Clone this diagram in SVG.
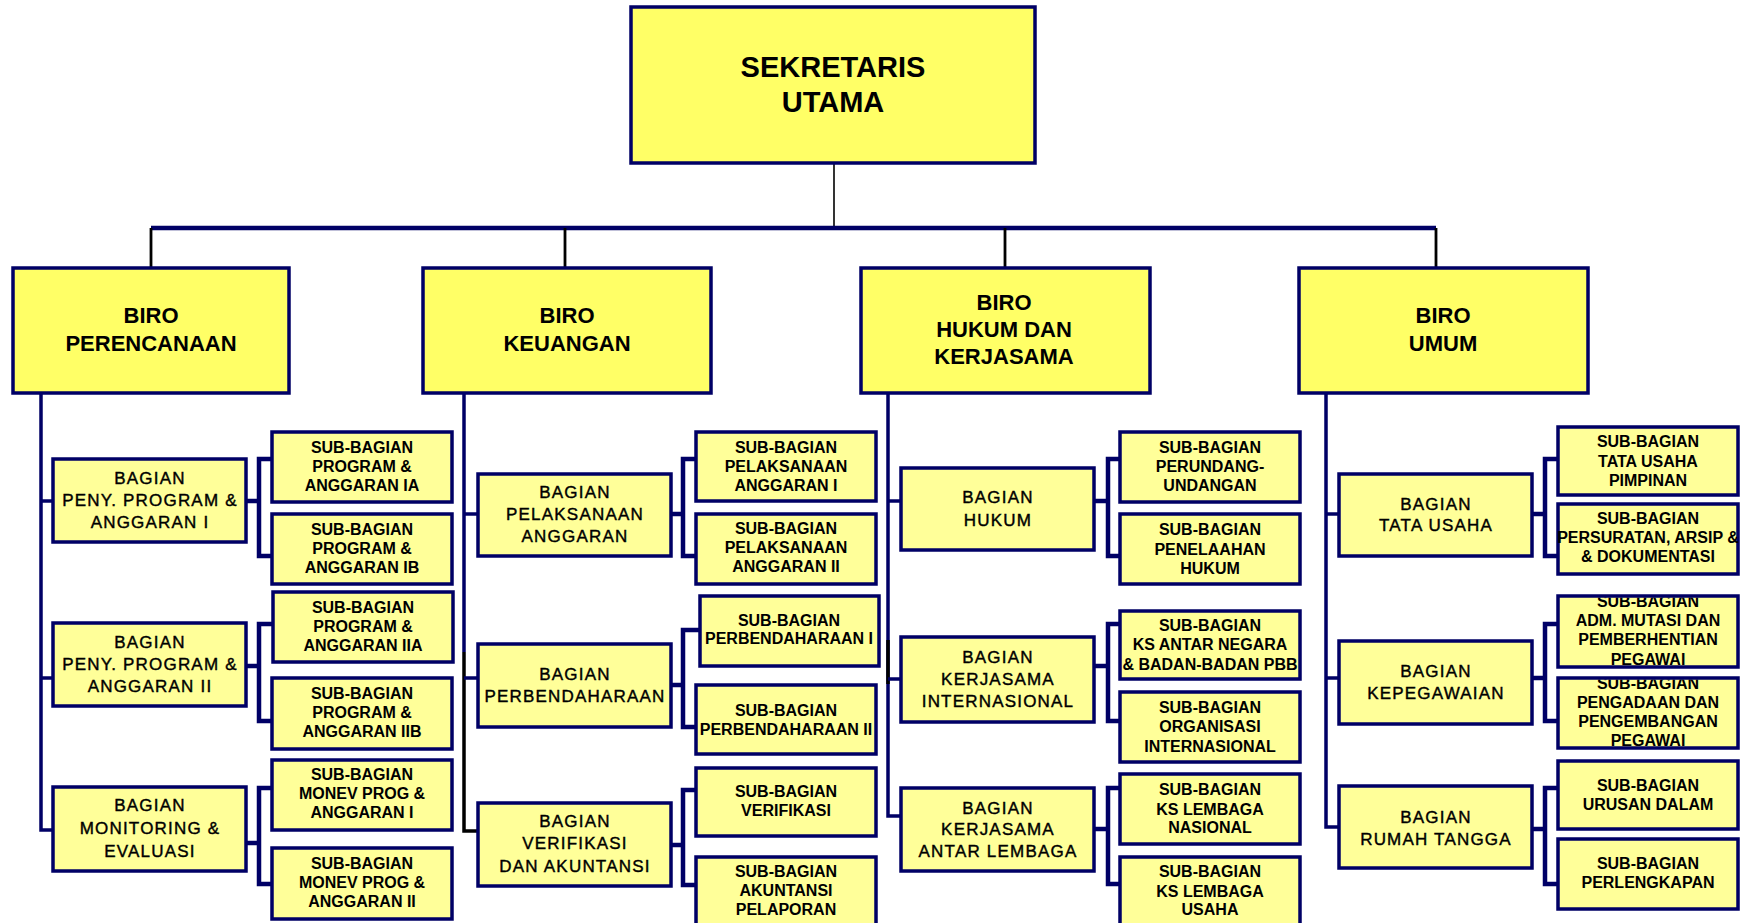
<svg xmlns="http://www.w3.org/2000/svg" width="1754" height="923" viewBox="0 0 1754 923">
<style>
.bg{fill:#ffffff}
.top{fill:#FFFF66;stroke:#000066;stroke-width:3.5}
.biro{fill:#FFFF66;stroke:#000066;stroke-width:3.5}
.bag{fill:#FFFF99;stroke:#000066;stroke-width:3.5}
.sub{fill:#FFFF99;stroke:#000066;stroke-width:3.5}
text{font-family:"Liberation Sans",Arial,sans-serif;fill:#000;text-anchor:middle}
.tt{font-size:29px;font-weight:bold}
.tb{font-size:22px;font-weight:bold}
.tg{font-size:17px;letter-spacing:1.2px;stroke:#000;stroke-width:0.4px}
.ts{font-size:16px;font-weight:bold}
.ln{fill:none;stroke:#000066;stroke-width:3.5}
.br{fill:none;stroke:#000066;stroke-width:4.5}
.bus{fill:none;stroke:#000066;stroke-width:4.5}
.blk{fill:none;stroke:#000000;stroke-width:2.8}
.thin{fill:none;stroke:#000000;stroke-width:1.6}
</style>
<defs>
<clipPath id="cpAdm"><rect x="1558" y="597.5" width="180" height="68"/></clipPath>
<clipPath id="cpPeng"><rect x="1558" y="679.5" width="180" height="67"/></clipPath>
</defs>
<rect class="bg" x="0" y="0" width="1754" height="923"/>

<g id="connectors">
<line class="thin" x1="834" y1="163" x2="834" y2="228"/>
<line class="bus" x1="151" y1="228" x2="1436" y2="228"/>
<line class="blk" x1="151" y1="228" x2="151" y2="268"/>
<line class="blk" x1="565" y1="228" x2="565" y2="268"/>
<line class="blk" x1="1005" y1="228" x2="1005" y2="268"/>
<line class="blk" x1="1436" y1="228" x2="1436" y2="268"/>
<!-- column 1 -->
<polyline class="ln" points="41,393 41,830 53,830"/>
<line class="ln" x1="41" y1="501" x2="53" y2="501"/>
<line class="ln" x1="41" y1="678" x2="53" y2="678"/>
<polyline class="br" points="272,459 259,459 259,556 272,556"/>
<line class="br" x1="246" y1="501" x2="259" y2="501"/>
<polyline class="br" points="272,624 259,624 259,721 272,721"/>
<line class="br" x1="246" y1="666" x2="259" y2="666"/>
<polyline class="br" points="272,788 259,788 259,884 272,884"/>
<line class="br" x1="246" y1="843" x2="259" y2="843"/>
<!-- column 2 -->
<line class="ln" x1="464" y1="393" x2="464" y2="652"/>
<polyline class="blk" style="stroke-width:3.5" points="464,652 464,831 478,831"/>
<line class="ln" x1="464" y1="514" x2="478" y2="514"/>
<line class="ln" x1="464" y1="678" x2="478" y2="678"/>
<polyline class="br" points="697,459 683,459 683,556 697,556"/>
<line class="br" x1="671" y1="514" x2="683" y2="514"/>
<polyline class="br" points="701,630 683,630 683,727 697,727"/>
<line class="br" x1="671" y1="685" x2="683" y2="685"/>
<polyline class="br" points="697,790 683,790 683,885 697,885"/>
<line class="br" x1="671" y1="845" x2="683" y2="845"/>
<!-- column 3 -->
<polyline class="ln" points="888,393 888,816 901,816"/>
<line class="blk" style="stroke-width:3.5" x1="888" y1="640" x2="888" y2="684"/>
<line class="ln" x1="888" y1="501" x2="901" y2="501"/>
<line class="ln" x1="888" y1="679" x2="901" y2="679"/>
<polyline class="br" points="1120,459 1108,459 1108,556 1120,556"/>
<line class="br" x1="1094" y1="501" x2="1108" y2="501"/>
<polyline class="br" points="1120,624 1108,624 1108,721 1120,721"/>
<line class="br" x1="1094" y1="666" x2="1108" y2="666"/>
<polyline class="br" points="1120,788 1108,788 1108,884 1120,884"/>
<line class="br" x1="1094" y1="829" x2="1108" y2="829"/>
<!-- column 4 -->
<polyline class="ln" points="1326,393 1326,827 1339,827"/>
<line class="ln" x1="1326" y1="514" x2="1339" y2="514"/>
<line class="ln" x1="1326" y1="678" x2="1339" y2="678"/>
<polyline class="br" points="1558,459 1545,459 1545,556 1558,556"/>
<line class="br" x1="1532" y1="514" x2="1545" y2="514"/>
<polyline class="br" points="1558,624 1545,624 1545,721 1558,721"/>
<line class="br" x1="1532" y1="678" x2="1545" y2="678"/>
<polyline class="br" points="1558,788 1545,788 1545,884 1558,884"/>
<line class="br" x1="1532" y1="829" x2="1545" y2="829"/>
</g>

<g id="sekretaris-utama">
<rect class="top" x="631" y="7" width="404" height="156"/>
<text class="tt" x="833" y="77">SEKRETARIS</text>
<text class="tt" x="833" y="112">UTAMA</text>
</g>

<g id="biro-perencanaan">
<rect class="biro" x="13" y="268" width="276" height="125"/>
<text class="tb" x="151" y="323">BIRO</text>
<text class="tb" x="151" y="351">PERENCANAAN</text>
</g>
<g id="biro-keuangan">
<rect class="biro" x="423" y="268" width="288" height="125"/>
<text class="tb" x="567" y="323">BIRO</text>
<text class="tb" x="567" y="351">KEUANGAN</text>
</g>
<g id="biro-hukum">
<rect class="biro" x="861" y="268" width="289" height="125"/>
<text class="tb" x="1004" y="310">BIRO</text>
<text class="tb" x="1004" y="337">HUKUM DAN</text>
<text class="tb" x="1004" y="364">KERJASAMA</text>
</g>
<g id="biro-umum">
<rect class="biro" x="1299" y="268" width="289" height="125"/>
<text class="tb" x="1443" y="323">BIRO</text>
<text class="tb" x="1443" y="351">UMUM</text>
</g>

<!-- Column 1 bagian -->
<g id="bagian-ppa1">
<rect class="bag" x="53" y="459" width="193" height="83"/>
<text class="tg" x="150" y="484">BAGIAN</text>
<text class="tg" x="150" y="506">PENY. PROGRAM &amp;</text>
<text class="tg" x="150" y="528">ANGGARAN I</text>
</g>
<g id="bagian-ppa2">
<rect class="bag" x="53" y="623" width="193" height="83"/>
<text class="tg" x="150" y="648">BAGIAN</text>
<text class="tg" x="150" y="670">PENY. PROGRAM &amp;</text>
<text class="tg" x="150" y="692">ANGGARAN II</text>
</g>
<g id="bagian-monev">
<rect class="bag" x="53" y="787" width="193" height="84"/>
<text class="tg" x="150" y="811">BAGIAN</text>
<text class="tg" x="150" y="834">MONITORING &amp;</text>
<text class="tg" x="150" y="857">EVALUASI</text>
</g>
<!-- Column 1 sub -->
<g id="sub-pa-ia">
<rect class="sub" x="272" y="432" width="180" height="70"/>
<text class="ts" x="362" y="453">SUB-BAGIAN</text>
<text class="ts" x="362" y="472">PROGRAM &amp;</text>
<text class="ts" x="362" y="491">ANGGARAN IA</text>
</g>
<g id="sub-pa-ib">
<rect class="sub" x="272" y="514" width="180" height="70"/>
<text class="ts" x="362" y="535">SUB-BAGIAN</text>
<text class="ts" x="362" y="554">PROGRAM &amp;</text>
<text class="ts" x="362" y="573">ANGGARAN IB</text>
</g>
<g id="sub-pa-iia">
<rect class="sub" x="273" y="592" width="180" height="70"/>
<text class="ts" x="363" y="613">SUB-BAGIAN</text>
<text class="ts" x="363" y="632">PROGRAM &amp;</text>
<text class="ts" x="363" y="651">ANGGARAN IIA</text>
</g>
<g id="sub-pa-iib">
<rect class="sub" x="272" y="678" width="180" height="71"/>
<text class="ts" x="362" y="699">SUB-BAGIAN</text>
<text class="ts" x="362" y="718">PROGRAM &amp;</text>
<text class="ts" x="362" y="737">ANGGARAN IIB</text>
</g>
<g id="sub-monev-i">
<rect class="sub" x="272" y="760" width="180" height="70"/>
<text class="ts" x="362" y="780">SUB-BAGIAN</text>
<text class="ts" x="362" y="799">MONEV PROG &amp;</text>
<text class="ts" x="362" y="818">ANGGARAN I</text>
</g>
<g id="sub-monev-ii">
<rect class="sub" x="272" y="848" width="180" height="71"/>
<text class="ts" x="362" y="869">SUB-BAGIAN</text>
<text class="ts" x="362" y="888">MONEV PROG &amp;</text>
<text class="ts" x="362" y="907">ANGGARAN II</text>
</g>

<!-- Column 2 bagian -->
<g id="bagian-pelaksanaan">
<rect class="bag" x="478" y="474" width="193" height="82"/>
<text class="tg" x="575" y="498">BAGIAN</text>
<text class="tg" x="575" y="520">PELAKSANAAN</text>
<text class="tg" x="575" y="542">ANGGARAN</text>
</g>
<g id="bagian-perbendaharaan">
<rect class="bag" x="478" y="644" width="193" height="83"/>
<text class="tg" x="575" y="680">BAGIAN</text>
<text class="tg" x="575" y="702">PERBENDAHARAAN</text>
</g>
<g id="bagian-verifikasi">
<rect class="bag" x="478" y="803" width="193" height="83"/>
<text class="tg" x="575" y="827">BAGIAN</text>
<text class="tg" x="575" y="849">VERIFIKASI</text>
<text class="tg" x="575" y="872">DAN AKUNTANSI</text>
</g>
<!-- Column 2 sub -->
<g id="sub-pelaksanaan-i">
<rect class="sub" x="696" y="432" width="180" height="69"/>
<text class="ts" x="786" y="453">SUB-BAGIAN</text>
<text class="ts" x="786" y="472">PELAKSANAAN</text>
<text class="ts" x="786" y="491">ANGGARAN I</text>
</g>
<g id="sub-pelaksanaan-ii">
<rect class="sub" x="696" y="514" width="180" height="70"/>
<text class="ts" x="786" y="534">SUB-BAGIAN</text>
<text class="ts" x="786" y="553">PELAKSANAAN</text>
<text class="ts" x="786" y="572">ANGGARAN II</text>
</g>
<g id="sub-perbendaharaan-i">
<rect class="sub" x="700" y="596" width="179" height="70"/>
<text class="ts" x="789" y="626">SUB-BAGIAN</text>
<text class="ts" x="789" y="644">PERBENDAHARAAN I</text>
</g>
<g id="sub-perbendaharaan-ii">
<rect class="sub" x="696" y="685" width="180" height="69"/>
<text class="ts" x="786" y="716">SUB-BAGIAN</text>
<text class="ts" x="786" y="735">PERBENDAHARAAN II</text>
</g>
<g id="sub-verifikasi">
<rect class="sub" x="696" y="768" width="180" height="68"/>
<text class="ts" x="786" y="797">SUB-BAGIAN</text>
<text class="ts" x="786" y="816">VERIFIKASI</text>
</g>
<g id="sub-akuntansi">
<rect class="sub" x="696" y="857" width="180" height="70"/>
<text class="ts" x="786" y="877">SUB-BAGIAN</text>
<text class="ts" x="786" y="896">AKUNTANSI</text>
<text class="ts" x="786" y="915">PELAPORAN</text>
</g>

<!-- Column 3 bagian -->
<g id="bagian-hukum">
<rect class="bag" x="901" y="468" width="193" height="82"/>
<text class="tg" x="998" y="503">BAGIAN</text>
<text class="tg" x="998" y="526">HUKUM</text>
</g>
<g id="bagian-ks-internasional">
<rect class="bag" x="901" y="637" width="193" height="85"/>
<text class="tg" x="998" y="663">BAGIAN</text>
<text class="tg" x="998" y="685">KERJASAMA</text>
<text class="tg" x="998" y="707">INTERNASIONAL</text>
</g>
<g id="bagian-ks-antar-lembaga">
<rect class="bag" x="901" y="788" width="193" height="83"/>
<text class="tg" x="998" y="814">BAGIAN</text>
<text class="tg" x="998" y="835">KERJASAMA</text>
<text class="tg" x="998" y="857">ANTAR LEMBAGA</text>
</g>
<!-- Column 3 sub -->
<g id="sub-perundang">
<rect class="sub" x="1120" y="432" width="180" height="70"/>
<text class="ts" x="1210" y="453">SUB-BAGIAN</text>
<text class="ts" x="1210" y="472">PERUNDANG-</text>
<text class="ts" x="1210" y="491">UNDANGAN</text>
</g>
<g id="sub-penelaahan">
<rect class="sub" x="1120" y="514" width="180" height="70"/>
<text class="ts" x="1210" y="535">SUB-BAGIAN</text>
<text class="ts" x="1210" y="555">PENELAAHAN</text>
<text class="ts" x="1210" y="574">HUKUM</text>
</g>
<g id="sub-ks-antar-negara">
<rect class="sub" x="1120" y="611" width="180" height="68"/>
<text class="ts" x="1210" y="631">SUB-BAGIAN</text>
<text class="ts" x="1210" y="650">KS ANTAR NEGARA</text>
<text class="ts" x="1210" y="670">&amp; BADAN-BADAN PBB</text>
</g>
<g id="sub-organisasi">
<rect class="sub" x="1120" y="692" width="180" height="70"/>
<text class="ts" x="1210" y="713">SUB-BAGIAN</text>
<text class="ts" x="1210" y="732">ORGANISASI</text>
<text class="ts" x="1210" y="752">INTERNASIONAL</text>
</g>
<g id="sub-ks-nasional">
<rect class="sub" x="1120" y="774" width="180" height="70"/>
<text class="ts" x="1210" y="795">SUB-BAGIAN</text>
<text class="ts" x="1210" y="815">KS LEMBAGA</text>
<text class="ts" x="1210" y="833">NASIONAL</text>
</g>
<g id="sub-ks-usaha">
<rect class="sub" x="1120" y="857" width="180" height="70"/>
<text class="ts" x="1210" y="877">SUB-BAGIAN</text>
<text class="ts" x="1210" y="897">KS LEMBAGA</text>
<text class="ts" x="1210" y="915">USAHA</text>
</g>

<!-- Column 4 bagian -->
<g id="bagian-tata-usaha">
<rect class="bag" x="1339" y="474" width="193" height="82"/>
<text class="tg" x="1436" y="510">BAGIAN</text>
<text class="tg" x="1436" y="531">TATA USAHA</text>
</g>
<g id="bagian-kepegawaian">
<rect class="bag" x="1339" y="641" width="193" height="83"/>
<text class="tg" x="1436" y="677">BAGIAN</text>
<text class="tg" x="1436" y="699">KEPEGAWAIAN</text>
</g>
<g id="bagian-rumah-tangga">
<rect class="bag" x="1339" y="786" width="193" height="82"/>
<text class="tg" x="1436" y="823">BAGIAN</text>
<text class="tg" x="1436" y="845">RUMAH TANGGA</text>
</g>
<!-- Column 4 sub -->
<g id="sub-tu-pimpinan">
<rect class="sub" x="1558" y="427" width="180" height="68"/>
<text class="ts" x="1648" y="447">SUB-BAGIAN</text>
<text class="ts" x="1648" y="467">TATA USAHA</text>
<text class="ts" x="1648" y="486">PIMPINAN</text>
</g>
<g id="sub-persuratan">
<rect class="sub" x="1558" y="504" width="180" height="70"/>
<text class="ts" x="1648" y="524">SUB-BAGIAN</text>
<text class="ts" x="1648" y="543">PERSURATAN, ARSIP &amp;</text>
<text class="ts" x="1648" y="562">&amp; DOKUMENTASI</text>
</g>
<g id="sub-adm-mutasi">
<rect x="1558" y="596" width="180" height="71" fill="#FFFF99"/>
<g clip-path="url(#cpAdm)">
<text class="ts" x="1648" y="607">SUB-BAGIAN</text>
<text class="ts" x="1648" y="626">ADM. MUTASI DAN</text>
<text class="ts" x="1648" y="645">PEMBERHENTIAN</text>
<text class="ts" x="1648" y="665">PEGAWAI</text>
</g>
<rect x="1558" y="596" width="180" height="71" fill="none" stroke="#000066" stroke-width="3.5"/>
</g>
<g id="sub-pengadaan">
<rect x="1558" y="678" width="180" height="70" fill="#FFFF99"/>
<g clip-path="url(#cpPeng)">
<text class="ts" x="1648" y="689">SUB-BAGIAN</text>
<text class="ts" x="1648" y="708">PENGADAAN DAN</text>
<text class="ts" x="1648" y="727">PENGEMBANGAN</text>
<text class="ts" x="1648" y="746">PEGAWAI</text>
</g>
<rect x="1558" y="678" width="180" height="70" fill="none" stroke="#000066" stroke-width="3.5"/>
</g>
<g id="sub-urusan-dalam">
<rect class="sub" x="1558" y="761" width="180" height="68"/>
<text class="ts" x="1648" y="791">SUB-BAGIAN</text>
<text class="ts" x="1648" y="810">URUSAN DALAM</text>
</g>
<g id="sub-perlengkapan">
<rect class="sub" x="1558" y="839" width="180" height="70"/>
<text class="ts" x="1648" y="869">SUB-BAGIAN</text>
<text class="ts" x="1648" y="888">PERLENGKAPAN</text>
</g>
</svg>
